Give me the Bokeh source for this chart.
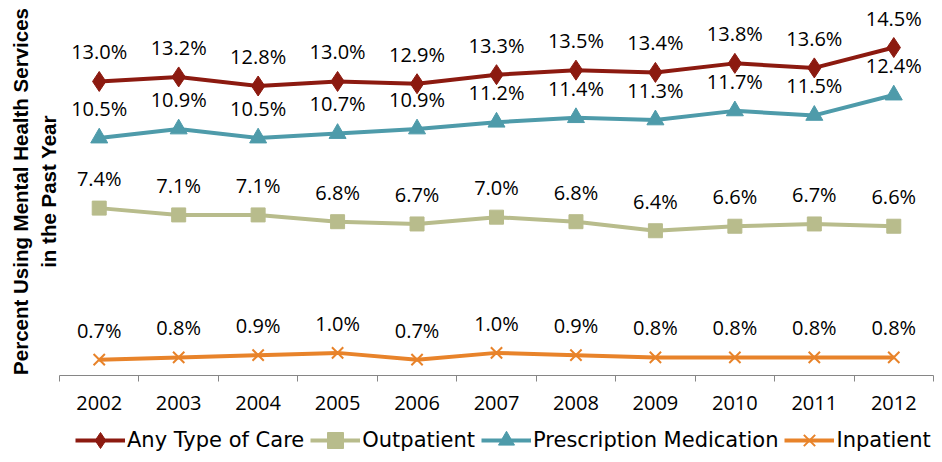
from bokeh.plotting import figure
from bokeh.layouts import column
from bokeh.models import ColumnDataSource, FixedTicker, Range1d, Legend, LegendItem, LabelSet
from bokeh.core.properties import value
from bokeh.embed import file_html
from bokeh.resources import INLINE

years = [2002, 2003, 2004, 2005, 2006, 2007, 2008, 2009, 2010, 2011, 2012]
any_care = [13.0, 13.2, 12.8, 13.0, 12.9, 13.3, 13.5, 13.4, 13.8, 13.6, 14.5]
outpatient = [7.4, 7.1, 7.1, 6.8, 6.7, 7.0, 6.8, 6.4, 6.6, 6.7, 6.6]
prescription = [10.5, 10.9, 10.5, 10.7, 10.9, 11.2, 11.4, 11.3, 11.7, 11.5, 12.4]
inpatient = [0.7, 0.8, 0.9, 1.0, 0.7, 1.0, 0.9, 0.8, 0.8, 0.8, 0.8]
series_names = ["Any Type of Care", "Outpatient", "Prescription Medication", "Inpatient"]

FONT = "Open Sans"
LFONT = "DejaVu Sans"

p = figure(width=934, height=417, output_backend="svg", toolbar_location=None,
           x_range=Range1d(years[0] - 0.5, years[-1] + 0.5), y_range=Range1d(0, 16.27),
           min_border_left=59, min_border_right=1, min_border_top=7, min_border_bottom=42)
p.outline_line_color = None
p.grid.grid_line_color = None

# x axis: labels at year centres, tick marks at boundaries
xa = p.xaxis[0]
xa.ticker = FixedTicker(ticks=years, minor_ticks=[y - 0.5 for y in years] + [years[-1] + 0.5])
xa.major_label_overrides = {y: str(y) for y in years}
xa.major_tick_out = 0
xa.major_tick_in = 0
xa.minor_tick_out = 6
xa.minor_tick_in = 0
xa.minor_tick_line_color = "#868686"
xa.axis_line_color = "#868686"
xa.major_label_text_font = FONT
xa.major_label_text_font_size = "20px"
xa.major_label_text_color = "#000000"
xa.major_label_standoff = 14

ya = p.yaxis[0]
ya.ticker = FixedTicker(ticks=[])
ya.axis_line_color = None
ya.major_tick_line_color = None
ya.minor_tick_line_color = None
ya.axis_label = "Percent Using Mental Health Services\nin the Past Year"
ya.axis_label_text_font = "Liberation Sans"
ya.axis_label_text_font_style = "bold"
ya.axis_label_text_font_size = "20.5px"
ya.axis_label_text_color = "#000000"
ya.axis_label_standoff = 0

colors = ["#8C1A10", "#B8BC8C", "#4E9BAA", "#E8832A"]
markers = ["diamond", "square", "triangle", "x"]
sizes = [20, 14, 17, 16]
data = [any_care, outpatient, prescription, inpatient]


def draw(fig, src, col, mk, sz):
    ln = fig.line("x", "y", source=src, line_color=col, line_width=4)
    if mk == "x":
        sc = fig.scatter("x", "y", source=src, marker=mk, size=sz, line_color=col, line_width=2)
    else:
        sc = fig.scatter("x", "y", source=src, marker=mk, size=sz, fill_color=col, line_color=col)
    return ln, sc


for vals, col, mk, sz in zip(data, colors, markers, sizes):
    src = ColumnDataSource(dict(x=years, y=vals, lab=["%.1f%%" % v for v in vals]))
    draw(p, src, col, mk, sz)
    labels = LabelSet(x="x", y="y", text="lab", source=src, x_offset=0, y_offset=22,
                      text_align="center", text_baseline="alphabetic",
                      text_font=value(FONT), text_font_size="20px", text_color="#000000")
    p.add_layout(labels)

# legend strip beneath the chart (legend renderers sit outside the visible range)
lg = figure(width=934, height=43, output_backend="svg", toolbar_location=None,
            x_range=Range1d(0, 1), y_range=Range1d(0, 1), x_axis_type=None, y_axis_type=None,
            min_border_left=0, min_border_right=0, min_border_top=0, min_border_bottom=0)
lg.outline_line_color = None
lg.grid.grid_line_color = None
items = []
for name, col, mk, sz in zip(series_names, colors, markers, sizes):
    esrc = ColumnDataSource(dict(x=[-10, -9], y=[-10, -9]))
    ln, sc = draw(lg, esrc, col, mk, sz)
    items.append(LegendItem(label=name, renderers=[ln, sc]))
legend = Legend(items=items, orientation="horizontal", location=(16, 0),
                glyph_width=50, glyph_height=40, label_standoff=2, spacing=6,
                label_text_font=LFONT, label_text_font_size="21px", label_text_color="#000000",
                border_line_color=None, background_fill_alpha=0, padding=0, margin=0)
lg.add_layout(legend, "center")

layout = column(p, lg, spacing=0)
open("out.html", "w").write(file_html(layout, INLINE))
